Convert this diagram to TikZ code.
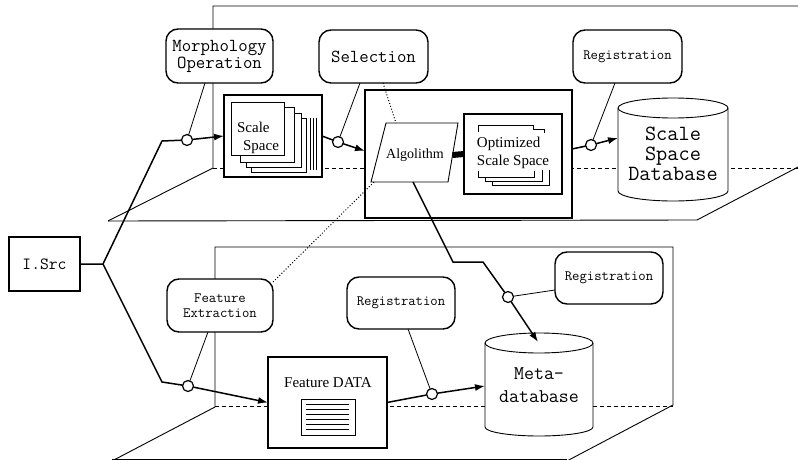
\documentclass[tikz,border=0pt]{standalone}
\usepackage{fontspec}
\setmainfont{Liberation Serif}
\usetikzlibrary{arrows.meta}
\begin{document}
\begin{tikzpicture}[x=1pt,y=-1pt,
  every node/.style={inner sep=0pt, outer sep=0pt},
  frame/.style={line width=0.9pt},
  conn/.style={line width=1.5pt},
  arr/.style={conn, -{Latex[length=10pt,width=7pt]}},
  callout/.style={line width=0.8pt},
  dots/.style={line width=1pt, dash pattern=on 1pt off 2pt},
  rbox/.style={draw, fill=white, line width=1.4pt, rounded corners=12pt, align=center},
  sbox/.style={draw, fill=white, line width=1.1pt},
  junc/.style={circle, draw, fill=white, line width=1.2pt, minimum size=11pt},
  bigmono/.style={font=\ttfamily\fontsize{18.3}{17}\selectfont},
  smallmono/.style={font=\ttfamily\fontsize{14.3}{15}\selectfont},
  serif/.style={font=\fontsize{15}{18}\selectfont},
]
\useasboundingbox (0,0) rectangle (798,460);

% ---- top plane
\draw[frame] (108,221) -- (213,168) -- (213,6) -- (800,6);
\draw[frame] (108,221) -- (697,220) -- (800,166);
\draw[frame, dash pattern=on 4pt off 3pt] (213,168) -- (800,168);

% ---- bottom plane
\draw[frame] (110,462) -- (215,407) -- (215,247) -- (673,247) -- (673,405) -- (565,462);
\draw[frame] (112,459) -- (567,459);
\draw[frame, dash pattern=on 4pt off 3pt] (215,406) -- (673,406);

% ---- nodes
\node[sbox, minimum width=71pt, minimum height=54pt, font=\ttfamily\fontsize{17.1}{18}\selectfont] (isrc) at (44.5,264) {I.Src};

\node[rbox, bigmono, minimum width=107pt, minimum height=54pt] (morph) at (219.5,56) {Morphology\\Operation};
\node[rbox, bigmono, minimum width=109pt, minimum height=53pt] (sel) at (373.5,56.5) {Selection};
\node[rbox, smallmono, minimum width=109pt, minimum height=53pt] (regt) at (627.5,56.5) {Registration};
\node[rbox, smallmono, minimum width=106pt, minimum height=53pt] (fe) at (220,305.5) {Feature\\Extraction};
\node[rbox, smallmono, minimum width=108pt, minimum height=52pt] (regm) at (401,303) {Registration};
\node[rbox, smallmono, minimum width=108pt, minimum height=52pt] (regr) at (609,278) {Registration};

% Scale space stack
\node[sbox, minimum width=98pt, minimum height=82pt] (ssbox) at (273,136) {};
\draw[frame, fill=white] (251,118) rectangle (306,172);
\draw[frame, fill=white] (246,113) rectangle (301,167);
\draw[frame, fill=white] (240,107) rectangle (294,162);
\draw[frame, fill=white] (231,102) rectangle (284,155);
\draw[frame] (310,118) -- (310,170) (313,118) -- (313,170) (316,118) -- (316,170);
\node[serif, align=left] (sstext) at (258,138) {Scale\\\hspace*{6pt}Space};

% algorithm module
\node[sbox, minimum width=207pt, minimum height=128pt] (algbox) at (468.5,154) {};
\draw[frame, fill=white] (386,123) -- (458,123) -- (448,182) -- (371,182) -- cycle;
\node[font=\fontsize{14}{16}\selectfont] (algo) at (415,155) {Algolithm};
\coordinate (algoR) at (452.5,155);
\coordinate (algoT) at (396,123);
\coordinate (algoBL) at (374,182);
\coordinate (algoB) at (413,182);
\node[draw, fill=white, line width=1.7pt, minimum width=98pt, minimum height=80pt] (opt) at (513,154) {};
\draw[line width=0.8pt] (478,132) -- (478,125) -- (533,125) -- (533,129) -- (544,129) -- (544,133);
\draw[line width=0.8pt] (478,171) -- (478,177) -- (534,177) -- (534,171);
\draw[line width=0.8pt] (485,177) -- (485,181) -- (542,181) -- (542,170);
\draw[line width=0.8pt] (492,181) -- (492,185) -- (549,185) -- (549,170);
\node[serif, align=left] (opttext) at (513,153) {Optimized\\Scale Space};
\draw[line width=6pt] (algoR) -- (opt.west);

% Scale space database cylinder
\draw[frame, fill=white] (618,108) -- (618,191) arc[start angle=180, end angle=360, x radius=55pt, y radius=10pt] -- (728,108) arc[start angle=0, end angle=180, x radius=55pt, y radius=10pt] -- cycle;
\draw[frame] (618,108) arc[start angle=180, end angle=360, x radius=55pt, y radius=10pt];
\node[font=\ttfamily\fontsize{21.7}{20}\selectfont, align=center] (ssd) at (673,154) {Scale\\Space\\Database};
\coordinate (ssdW) at (618,138);

% Meta-database cylinder
\draw[frame, fill=white] (485,343) -- (485,427) arc[start angle=180, end angle=360, x radius=54pt, y radius=9pt] -- (593,343) arc[start angle=0, end angle=180, x radius=54pt, y radius=10pt] -- cycle;
\draw[frame] (485,343) arc[start angle=180, end angle=360, x radius=54pt, y radius=10pt];
\node[font=\ttfamily\fontsize{19.4}{23}\selectfont, align=center] (meta) at (539,385) {Meta-\\database};
\coordinate (metaT) at (538,342);
\coordinate (metaW) at (485,386);

% Feature DATA
\node[sbox, minimum width=119pt, minimum height=91pt] (fd) at (327.5,402.5) {};
\node[serif] (fdtext) at (328,383) {Feature DATA};
\draw[frame, fill=white] (301,399) rectangle (355,435);
\foreach \yy in {404,409,414,419,424,429} \draw[line width=0.7pt] (306,\yy) -- (349,\yy);

% junctions
\node[junc] (jm) at (187,140) {};
\node[junc] (js) at (338,142) {};
\node[junc] (jr) at (591,145) {};
\node[junc] (jf) at (188,386) {};
\node[junc] (jrm) at (432,394) {};
\node[junc] (jrr) at (508,297) {};

\coordinate (split) at (103,264);
\coordinate (bendU) at (162,141);
\coordinate (bendD) at (162,382);
\coordinate (bendA) at (453,262);
\coordinate (bendB) at (483,262);

% connectors
\draw[conn] (isrc.east) -- (split) -- (bendU) -- (jm);
\draw[arr] (jm) -- (ssbox.west);
\draw[conn] (split) -- (bendD) -- (jf);
\draw[arr] (jf) -- (fd.west);
\draw[conn] (ssbox.east) -- (js);
\draw[arr] (js) -- ([yshift=3pt]algbox.west);
\draw[conn] ([yshift=5pt]algbox.east) -- (jr);
\draw[arr] (jr) -- (ssdW);
\draw[conn] (algoB) -- (bendA) -- (bendB) -- (jrr);
\draw[arr] (jrr) -- (metaT);
\draw[conn] (fd.east) -- (jrm);
\draw[arr] (jrm) -- (metaW);

% callouts
\draw[callout] ([xshift=-14.5pt]morph.south) -- (jm);
\draw[callout] ([xshift=-13.5pt]sel.south) -- (js);
\draw[callout] ([xshift=-12.5pt]regt.south) -- (jr);
\draw[callout] ([xshift=-12pt]fe.south) -- (jf);
\draw[callout] ([xshift=7pt]regm.south) -- (jrm);
\draw[callout] ([yshift=-12pt]regr.west) -- (jrr);

% dotted
\draw[dots] ([xshift=9.5pt]sel.south) -- (algoT);
\draw[dots] ([yshift=-3pt]fe.north east) -- (algoBL);
\end{tikzpicture}
\end{document}
